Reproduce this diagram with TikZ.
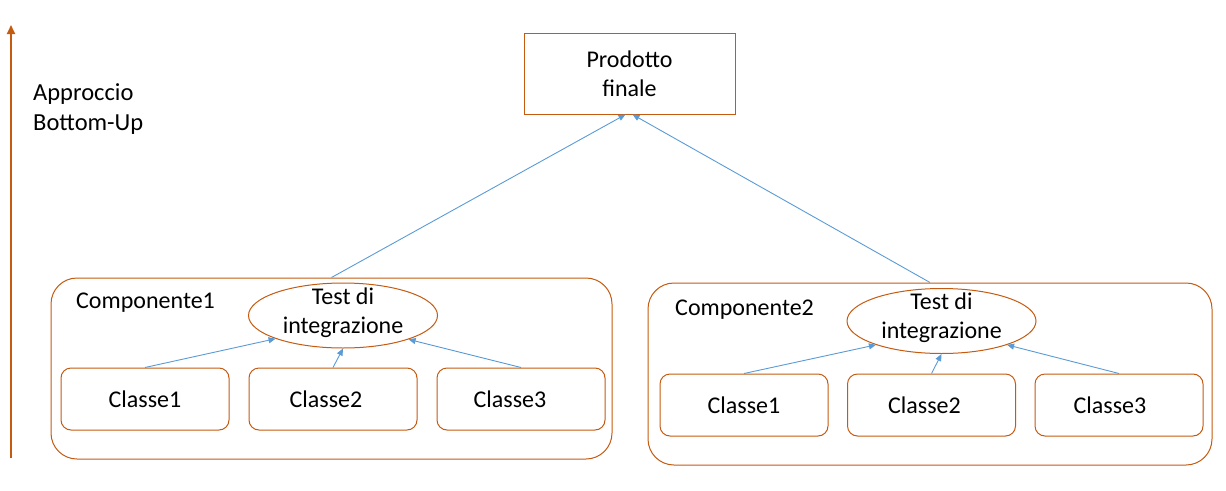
\documentclass[tikz,border=0pt]{standalone}
\usepackage{fontspec}
\setmainfont{Carlito}
\usetikzlibrary{arrows.meta,shapes.geometric,calc}
\definecolor{borderorange}{HTML}{C55A11}
\definecolor{linkblue}{HTML}{5B9BD5}
\begin{document}
\begin{tikzpicture}[x=1pt,y=-1pt,
  every node/.style={font=\fontsize{24}{29}\selectfont, inner sep=0pt, text=black},
  compbox/.style={draw=borderorange, line width=1pt, rounded corners=26pt},
  classbox/.style={draw=borderorange, line width=1pt, rounded corners=10pt, minimum width=168pt, minimum height=62pt},
  testell/.style={ellipse, draw=borderorange, line width=1pt, minimum width=189pt, minimum height=65pt},
  prodbox/.style={draw=borderorange, line width=1pt, minimum width=211pt, minimum height=81pt, align=center},
  link/.style={draw=linkblue, line width=0.9pt, -{Triangle[length=7pt,width=6pt]}},
  bigarrow/.style={draw=borderorange, line width=2pt, -{Triangle[length=9pt,width=8pt]}},
]
\useasboundingbox (0,0) rectangle (1226,490);

% left arrow and caption
\coordinate (abot) at (11,458);
\coordinate (atop) at (11,25);
\draw[bigarrow] (abot) -- (atop);
\node[anchor=west, align=left, font=\fontsize{24.5}{30}\selectfont] (appr) at (33,109) {Approccio\\Bottom-Up};

% component containers
\node[compbox, minimum width=561pt, minimum height=181pt] (k1) at (331.5,368.5) {};
\node[compbox, minimum width=564pt, minimum height=182pt] (k2) at (930,374) {};

% final product
\node[prodbox] (p) at (629.5,73.5) {Prodotto\\finale};

% labels
\node[anchor=west] (n1) at (76,303) {Componente1};
\node[anchor=west] (n2) at (675,310) {Componente2};

% ellipses
\node[testell, label={[align=center, yshift=3pt]center:Test di\\integrazione}] (e1) at (343,315.5) {};
\node[testell, label={[align=center, yshift=3pt]center:Test di\\integrazione}] (e2) at (941.5,321) {};

% classes
\node[classbox] (c11) at (145,399) {Classe1};
\node[classbox] (c12) at (333,399) {Classe2\kern14pt};
\node[classbox] (c13) at (521,399) {Classe3\kern22pt};
\node[classbox] (c21) at (744,405) {Classe1};
\node[classbox] (c22) at (931.5,405) {Classe2\kern14pt};
\node[classbox] (c23) at (1119,405) {Classe3\kern18pt};

% links
\draw[link] (k1.north) -- ($(p.south)+(-4,0)$);
\draw[link] (k2.north) -- ($(p.south)+(3,0)$);
\draw[link] (c11.north) -- (e1.199);
\draw[link] (c12.north) -- (e1.south);
\draw[link] (c13.north) -- (e1.340);
\draw[link] (c21.north) -- (e2.200);
\draw[link] (c22.north) -- (e2.south);
\draw[link] (c23.north) -- (e2.340);
\end{tikzpicture}
\end{document}
